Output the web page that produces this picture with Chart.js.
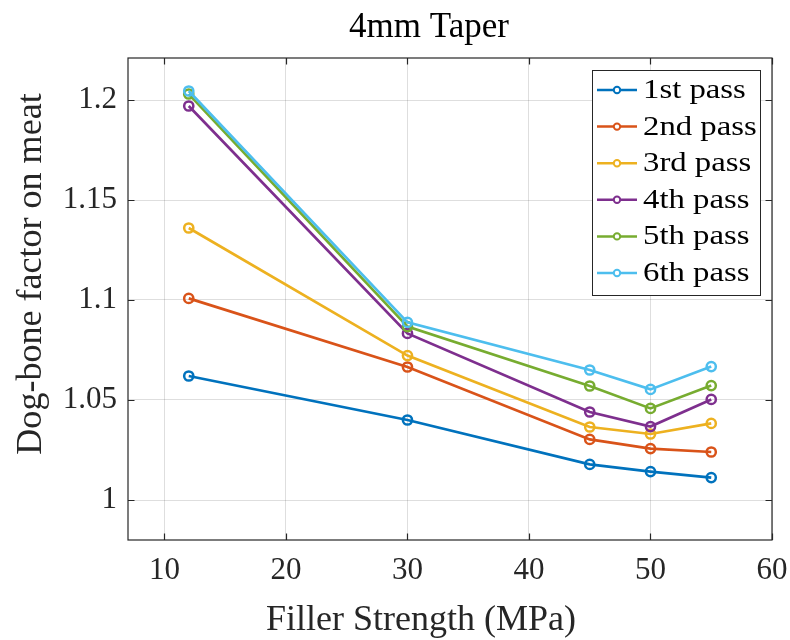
<!DOCTYPE html>
<html>
<head>
<meta charset="utf-8">
<script src="https://cdn.jsdelivr.net/npm/chart.js@4/dist/chart.umd.min.js"></script>
<style>
html,body{margin:0;padding:0;background:#fff;}
#c{display:block;}
</style>
</head>
<body>
<canvas id="c" width="790" height="640"></canvas>
<script>
const titleText = '4mm Taper';
const xLabel = 'Filler Strength (MPa)';
const yLabel = 'Dog-bone factor on meat';
const strengths = [12, 30, 45, 50, 55];
const seriesNames = ['1st pass', '2nd pass', '3rd pass', '4th pass', '5th pass', '6th pass'];
const pass1 = [1.062, 1.040, 1.0178, 1.0142, 1.0112];
const pass2 = [1.1008, 1.0665, 1.0303, 1.0257, 1.0240];
const pass3 = [1.136, 1.0722, 1.0365, 1.0330, 1.0383];
const pass4 = [1.197, 1.0833, 1.0440, 1.0367, 1.0503];
const pass5 = [1.2030, 1.0867, 1.0570, 1.0458, 1.0572];
const pass6 = [1.2045, 1.0888, 1.0650, 1.0553, 1.0667];
const xTicks = [10, 20, 30, 40, 50, 60];
const xTickLabels = ['10', '20', '30', '40', '50', '60'];
const yTicks = [1, 1.05, 1.1, 1.15, 1.2];
const yTickLabels = ['1', '1.05', '1.1', '1.15', '1.2'];
const colors = ['#0072BD', '#D95319', '#EDB120', '#7E2F8E', '#77AC30', '#4DBEEE'];
const allSeries = [pass1, pass2, pass3, pass4, pass5, pass6];

const FONT = '"Liberation Serif", "Times New Roman", serif';

const datasets = allSeries.map((vals, i) => ({
  label: seriesNames[i],
  data: vals.map((v, j) => ({x: strengths[j], y: v})),
  borderColor: colors[i],
  backgroundColor: colors[i],
  borderWidth: 2.7,
  pointRadius: 4.6,
  pointHoverRadius: 4.6,
  pointBorderWidth: 2.5,
  pointBackgroundColor: 'rgba(255,255,255,0)',
  pointBorderColor: colors[i],
  tension: 0,
  order: allSeries.length - 1 - i
}));

const decor = {
  id: 'decor',
  afterDraw(chart) {
    const ctx = chart.ctx;
    const a = chart.chartArea;
    const xs = chart.scales.x, ys = chart.scales.y;
    ctx.save();
    // frame
    ctx.strokeStyle = '#262626';
    ctx.lineWidth = 1.2;
    ctx.strokeRect(a.left, a.top, a.right - a.left, a.bottom - a.top);
    // inward ticks
    const tl = 6.5;
    ctx.beginPath();
    xTicks.forEach(v => {
      const px = Math.round(xs.getPixelForValue(v)) + 0.5;
      ctx.moveTo(px, a.bottom); ctx.lineTo(px, a.bottom - tl);
      ctx.moveTo(px, a.top); ctx.lineTo(px, a.top + tl);
    });
    yTicks.forEach(v => {
      const py = Math.round(ys.getPixelForValue(v)) + 0.5;
      ctx.moveTo(a.left, py); ctx.lineTo(a.left + tl, py);
      ctx.moveTo(a.right, py); ctx.lineTo(a.right - tl, py);
    });
    ctx.stroke();

    // title
    ctx.fillStyle = '#000';
    ctx.textAlign = 'center';
    ctx.textBaseline = 'alphabetic';
    ctx.font = '35px ' + FONT;
    ctx.fillText(titleText, 429, 37);
    // x label
    ctx.fillStyle = '#262626';
    ctx.font = '36px ' + FONT;
    ctx.fillText(xLabel, 421, 630);
    // y label
    ctx.save();
    ctx.translate(41, 274);
    ctx.rotate(-Math.PI / 2);
    ctx.scale(1.03, 1);
    ctx.font = '35px ' + FONT;
    ctx.fillText(yLabel, 0, 0);
    ctx.restore();

    // legend
    const lx = 592, ly = 70, lw = 168, lh = 225;
    ctx.fillStyle = '#fff';
    ctx.fillRect(lx, ly, lw, lh);
    ctx.strokeStyle = '#262626';
    ctx.lineWidth = 1;
    ctx.strokeRect(lx + 0.5, ly + 0.5, lw, lh);
    ctx.textAlign = 'left';
    ctx.textBaseline = 'alphabetic';
    chart.data.datasets.forEach((ds, i) => {
      const cy = 90 + i * 36.6;
      ctx.strokeStyle = ds.borderColor;
      ctx.lineWidth = 2.5;
      ctx.beginPath();
      ctx.moveTo(597, cy); ctx.lineTo(637, cy);
      ctx.stroke();
      ctx.beginPath();
      ctx.fillStyle = '#fff';
      ctx.arc(617, cy, 3.2, 0, Math.PI * 2);
      ctx.fill();
      ctx.lineWidth = 2;
      ctx.stroke();
      ctx.save();
      ctx.translate(643, cy + 8);
      ctx.scale(1.17, 1);
      ctx.font = '28px ' + FONT;
      ctx.fillStyle = '#000';
      ctx.fillText(ds.label, 0, 0);
      ctx.restore();
    });
    ctx.restore();
  }
};

new Chart(document.getElementById('c'), {
  type: 'line',
  data: {datasets},
  options: {
    responsive: false,
    devicePixelRatio: 1,
    animation: false,
    layout: {padding: {left: 0, right: 18, top: 58, bottom: 0}},
    plugins: {legend: {display: false}, title: {display: false}, tooltip: {enabled: false}},
    scales: {
      x: {
        type: 'linear',
        min: 7, max: 60,
        afterBuildTicks: s => { s.ticks = xTicks.map(v => ({value: v})); },
        afterFit: s => { s.height = 100; s.paddingLeft = 0; s.paddingRight = 0; },
        ticks: {
          callback: (v) => { const k = xTicks.indexOf(v); return k >= 0 ? xTickLabels[k] : ''; },
          font: {family: FONT, size: 31},
          color: '#262626',
          padding: 12,
          maxRotation: 0, autoSkip: false
        },
        grid: {color: 'rgba(0,0,0,0.13)', lineWidth: 1, drawTicks: false},
        border: {display: false}
      },
      y: {
        type: 'linear',
        min: 0.98, max: 1.221,
        afterBuildTicks: s => { s.ticks = yTicks.map(v => ({value: v})); },
        afterFit: s => { s.width = 128; s.paddingTop = 0; s.paddingBottom = 0; },
        ticks: {
          callback: (v) => { const k = yTicks.findIndex(t => Math.abs(t - v) < 1e-9); return k >= 0 ? yTickLabels[k] : ''; },
          font: {family: FONT, size: 31},
          color: '#262626',
          padding: 11,
          autoSkip: false
        },
        grid: {color: 'rgba(0,0,0,0.13)', lineWidth: 1, drawTicks: false},
        border: {display: false}
      }
    }
  },
  plugins: [decor]
});
</script>
</body>
</html>
